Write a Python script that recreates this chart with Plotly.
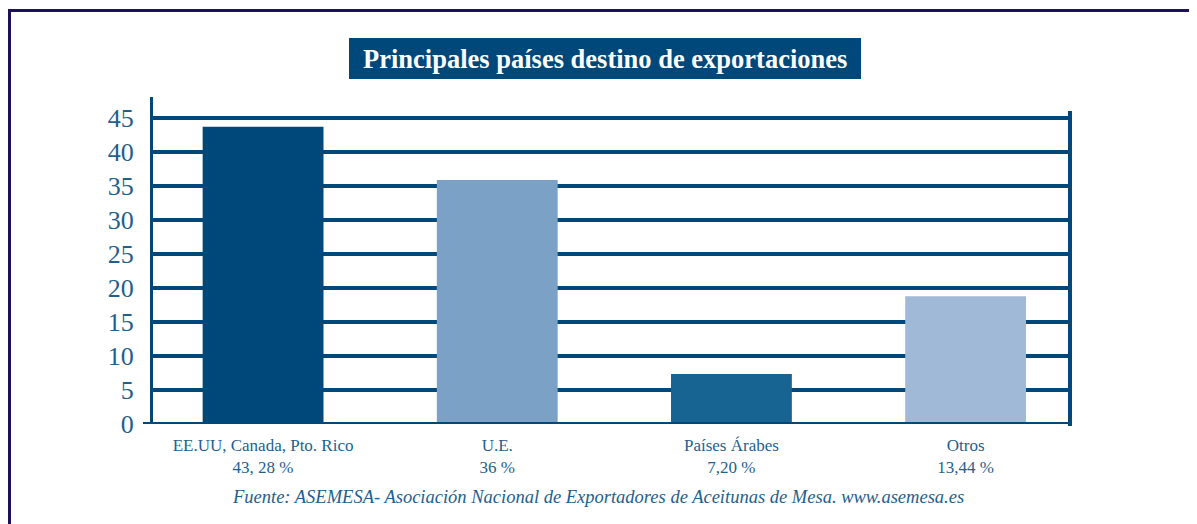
import plotly.graph_objects as go

categories = ["EE.UU, Canada, Pto. Rico<br>43, 28 %", "U.E.<br>36 %",
              "Países Árabes<br>7,20 %", "Otros<br>13,44 %"]
values = [43.7, 35.9, 7.35, 18.8]
bar_colors = ["#00477a", "#7ba2c6", "#176493", "#9fb9d6"]
y_ticks = [0, 5, 10, 15, 20, 25, 30, 35, 40, 45]

title_text = "<b>Principales países destino de exportaciones</b>"
source_text = "<i>Fuente: ASEMESA- Asociación Nacional de Exportadores de Aceitunas de Mesa. www.asemesa.es</i>"

# page body has an 8px margin; figure sized to fit the 1197x524 window
OFF = 8
W, H = 1197 - OFF, 524 - OFF
# plot area in window pixels
PX0, PX1, PY0, PY1 = 153, 1071, 97, 424
L, R = PX0 - OFF, W - (PX1 - OFF)
T, B = PY0 - OFF, H - (PY1 - OFF)
pw, ph = PX1 - PX0, PY1 - PY0

def px(x):
    return (x - PX0) / pw

def py(y):
    return (PY1 - y) / ph

text_color = "#1d5f8f"
axis_color = "#00477a"
serif = "Liberation Serif, Times New Roman, serif"

fig = go.Figure()
fig.add_trace(go.Bar(
    x=categories, y=values, marker=dict(color=bar_colors, line=dict(width=0)),
    width=0.516, hoverinfo="skip",
))

fig.update_layout(
    width=W, height=H,
    margin=dict(l=L, r=R, t=T, b=B),
    paper_bgcolor="white", plot_bgcolor="white",
    showlegend=False,
    font=dict(family=serif, color=text_color),
    xaxis=dict(
        type="category", range=[-0.47, 3.45], showgrid=False, zeroline=False,
        showline=False, ticks="", tickfont=dict(size=17, color=text_color, family=serif),
        ticklabelstandoff=9,
    ),
    yaxis=dict(
        range=[0, 48.09], tickvals=y_ticks, showgrid=True, gridcolor=axis_color,
        gridwidth=4, zeroline=False, showline=True, linecolor=axis_color, linewidth=3,
        ticks="", tickfont=dict(size=26, color=text_color, family=serif),
        ticklabelstandoff=11,
    ),
)

shapes = [
    # baseline
    dict(type="line", xref="paper", yref="y", x0=px(143), x1=px(1072), y0=0, y1=0,
         line=dict(color=axis_color, width=4), layer="above"),
    # right axis
    dict(type="line", xref="paper", yref="paper", x0=px(1070), x1=px(1070),
         y0=py(426), y1=py(111), line=dict(color=axis_color, width=4), layer="above"),
    # frame top
    dict(type="line", xref="paper", yref="paper", x0=px(8), x1=px(1200),
         y0=py(10.5), y1=py(10.5), line=dict(color="#1b1258", width=3), layer="above"),
    # frame left
    dict(type="line", xref="paper", yref="paper", x0=px(9.5), x1=px(9.5),
         y0=py(9), y1=py(530), line=dict(color="#1b1258", width=3), layer="above"),
    # title box
    dict(type="rect", xref="paper", yref="paper", x0=px(349), x1=px(861),
         y0=py(79), y1=py(38), fillcolor="#00477a", line=dict(width=0), layer="above"),
]
fig.update_layout(shapes=shapes)

fig.add_annotation(
    text=title_text, xref="paper", yref="paper", x=px(605), y=py(58.5),
    xanchor="center", yanchor="middle", showarrow=False,
    font=dict(family=serif, size=26.5, color="white"),
)
fig.add_annotation(
    text=source_text, xref="paper", yref="paper", x=px(598), y=py(497),
    xanchor="center", yanchor="middle", showarrow=False,
    font=dict(family=serif, size=18.5, color=text_color),
)

fig.write_html("out.html")
